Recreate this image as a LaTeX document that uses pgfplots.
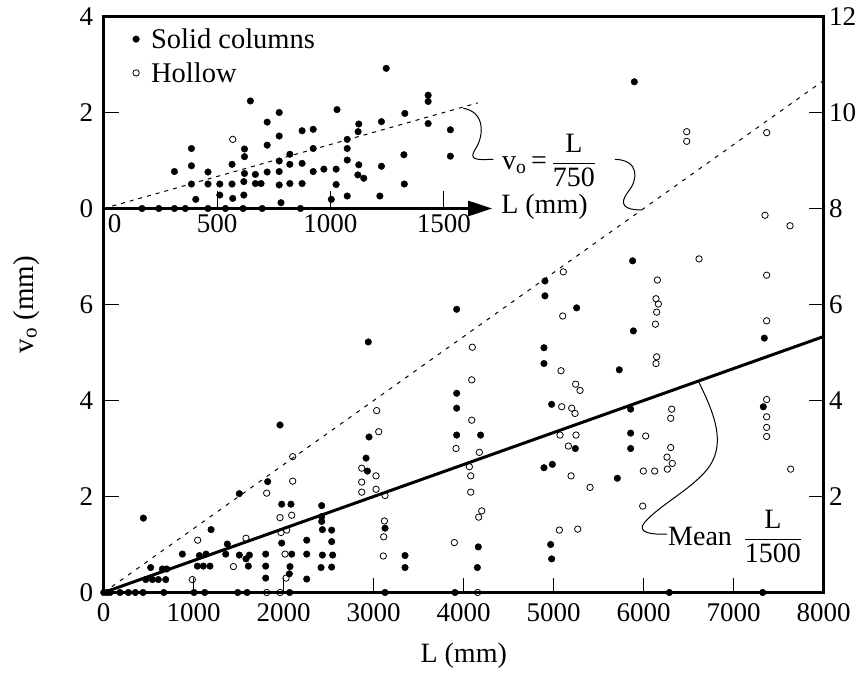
\documentclass[border=0pt]{standalone}
\usepackage{fontspec}
\setmainfont{Liberation Serif}
\usepackage{pgfplots}
\usepackage{pgfplotstable}
\pgfplotsset{compat=1.18}
\usetikzlibrary{arrows.meta}
\newcommand\fs{\fontsize{27}{31}\selectfont}
\newcommand\fl{\fontsize{28}{32}\selectfont}
\newcommand\fy{\fontsize{29}{33}\selectfont}
\newcommand\fg{\fontsize{28.5}{33}\selectfont}

\pgfplotstableread{
L v
0 0
35 0
70 0
181 0
274 0
352 0
437 0
667 0
1004 0
1122 0
1489 0
1593 0
2066 0
3126 0
3903 0
6285 0
7322 0
441 1.55
467 0.27
522 0.52
541 0.27
607 0.27
652 0.49
689 0.27
700 0.49
874 0.80
1041 0.55
1063 0.77
1107 0.55
1137 0.80
1181 0.55
1193 1.31
1356 0.80
1374 1.01
1507 2.06
1507 0.78
1581 0.70
1607 0.55
1619 0.78
1800 0.80
1800 0.55
1800 0.30
1822 2.31
1959 3.49
1978 1.84
1978 1.03
2063 0.39
2070 0.54
2081 1.84
2089 0.80
2256 1.09
2256 0.80
2256 0.28
2415 0.52
2422 1.81
2422 1.58
2422 1.48
2430 1.31
2430 0.78
2533 1.30
2533 1.06
2544 0.78
2533 0.53
2915 2.80
2930 2.53
2948 3.24
2940 5.22
3126 1.34
3348 0.77
3348 0.52
3922 5.90
3922 4.15
3922 3.84
3922 3.28
4188 3.28
4162 0.95
4152 0.52
4903 6.49
4903 6.18
4892 5.10
4892 4.77
4892 2.60
4977 3.92
4985 2.67
4966 1.00
4977 0.70
5255 5.93
5241 3.00
5729 4.64
5707 2.38
5877 6.91
5885 5.45
5855 3.82
5855 3.32
5855 3.00
5896 10.64
7340 5.30
7329 3.87
}\solidmain

\pgfplotstableread{
L v
985 0.27
1044 1.09
1441 0.54
1581 1.13
1811 0
1959 0
1811 2.07
1959 1.56
1970 1.25
2026 0.30
2015 0.80
2033 1.30
2089 1.61
2100 2.83
2100 2.32
2867 2.59
2867 2.30
2867 2.09
3033 3.79
3056 3.35
3026 2.43
3026 2.15
3126 2.02
3119 1.49
3111 1.16
3107 0.76
5107 6.68
5100 5.76
4096 5.11
4089 4.43
4089 3.59
3915 3.00
4174 2.92
4063 2.62
4078 2.43
4078 2.09
4200 1.70
4166 1.57
3896 1.04
4155 0
5081 4.62
5244 4.34
5293 4.21
5089 3.87
5200 3.84
5237 3.73
5070 3.28
5248 3.28
5163 3.05
5193 2.43
5404 2.19
5063 1.30
5267 1.32
6615 6.95
6152 6.51
6137 6.12
6163 6.01
6144 5.84
6130 5.59
6144 4.91
6137 4.77
6022 3.26
5996 2.53
6122 2.53
5989 1.80
6311 3.82
6300 3.63
6300 3.02
6259 2.82
6318 2.69
6263 2.57
7366 6.61
7366 5.66
7366 4.02
7366 3.66
7366 3.44
7366 3.25
7633 2.57
7367 9.58
7348 7.86
7626 7.64
6478 9.60
6478 9.40
}\hollowmain

\pgfplotstableread{
L v
169 0
243 0
312 0
360 0
460 0
537 0
615 0
699 0
868 0
312 0.77
387 1.25
387 0.89
387 0.51
406 0.19
460 0.76
460 0.51
512 0.51
512 0.28
566 0.92
566 0.51
569 0.21
621 1.24
621 1.08
621 0.73
618 0.56
618 0.28
647 2.24
669 0.71
669 0.52
694 0.52
721 1.80
721 1.32
721 0.76
774 2.00
774 1.51
774 0.99
774 0.77
774 0.49
782 0.12
821 1.13
821 0.92
821 0.52
875 1.62
875 0.94
875 0.52
924 1.65
924 1.25
924 0.77
971 0.82
1004 0.19
1025 0.82
1025 0.50
1029 2.06
1074 1.44
1074 1.25
1074 1.01
1074 0.26
1125 1.76
1122 1.60
1125 0.91
1121 0.70
1147 0.63
1225 1.81
1225 0.88
1218 0.26
1246 2.92
1328 1.98
1324 1.12
1326 0.51
1431 2.36
1431 2.23
1431 1.77
1529 1.64
1529 1.09
}\solidinset

\pgfplotstableread{
L v
569 1.44
}\hollowinset

\begin{document}
\begin{tikzpicture}
\path[use as bounding box] (-103.7pt,-80.5pt) rectangle (764.3pt,592.5pt);

% main axis
\begin{axis}[
  at={(0pt,0pt)}, anchor=origin,
  scale only axis, width=720pt, height=576pt,
  xmin=0, xmax=8000, ymin=0, ymax=12,
  clip=false,
  axis line style={line width=2.6pt},
  xtick={0,1000,...,8000},
  xticklabels={0,1000,2000,3000,4000,5000,6000,7000,8000},
  ytick={0,2,...,12},
  yticklabels={0,2,4,6,0,2,4},
  xtick pos=bottom, ytick pos=left,
  tick align=inside, major tick length=15pt,
  every tick/.style={black, line width=0.9pt},
  tick label style={font=\fs},
  xticklabel style={yshift=-8pt},
  yticklabel style={xshift=-7pt},
  xlabel={L (mm)},
  ylabel={v\kern0.5pt\raisebox{-3pt}{\fontsize{21}{21}\selectfont o}\ (mm)},
  label style={font=\fl},
  xlabel style={at={(axis description cs:0.5,-0.11)}, anchor=center},
  ylabel style={at={(axis description cs:-0.107,0.5)}, anchor=center, font=\fy},
  legend style={at={(axis description cs:0.035,0.9865)}, anchor=north west,
    draw=none, fill=none, font=\fg, row sep=8.5pt},
  legend cell align=left,
  legend image code/.code={\path[draw=none,fill=none] (-4pt,0pt) rectangle (13pt,0.1pt); \draw[#1] plot coordinates {(0pt,0pt)};},
]
\addplot[only marks, mark=*, mark size=3.3pt] table[x=L,y=v] {\solidmain};
\addlegendentry{Solid columns}
\addplot[only marks, mark=o, mark size=3.2pt, mark options={line width=0.8pt}] table[x=L,y=v] {\hollowmain};
\addlegendentry{Hollow}
\addplot[forget plot, line width=1pt, dash pattern=on 4pt off 6pt] coordinates {(0,0) (8000,10.667)};
\addplot[forget plot, line width=3pt] coordinates {(0,0) (8000,5.333)};

% annotation: v_o = L/750
\draw[line width=1pt] (axis cs:3996,10.088) .. controls (axis cs:4237,10.01) and (axis cs:4226,9.53) .. (axis cs:4137,9.26)
   .. controls (axis cs:4048,9.01) and (axis cs:4126,9.01) .. (axis cs:4329,9.025);
\draw[line width=1pt] (axis cs:5679,9.025) .. controls (axis cs:5959,9.01) and (axis cs:5937,8.59) .. (axis cs:5826,8.344)
   .. controls (axis cs:5714,8.073) and (axis cs:5792,7.969) .. (axis cs:5978,7.97);
\node[anchor=west, inner sep=0pt, font=\fl] at (axis cs:4426,9.0)
   {v\textsubscript{o}\,=\,$\displaystyle\frac{\mbox{L}}{\mbox{750}}$};

% annotation: Mean L/1500
\draw[line width=1pt] (axis cs:6607,4.405) .. controls (axis cs:6792,3.698) and (axis cs:6926,3.073) .. (axis cs:6700,2.552)
   .. controls (axis cs:6514,2.135) and (axis cs:6181,1.823) .. (axis cs:6014,1.469)
   .. controls (axis cs:5914,1.26) and (axis cs:6070,1.198) .. (axis cs:6259,1.219);
\node[anchor=west, inner sep=0pt, font=\fl] at (axis cs:6270,1.16)
   {Mean\, $\displaystyle\frac{\mbox{L}}{\mbox{1500}}$};
\end{axis}

% right axis
\begin{axis}[
  at={(0pt,0pt)}, anchor=origin,
  scale only axis, width=720pt, height=576pt,
  xmin=0, xmax=8000, ymin=0, ymax=12,
  hide x axis, axis y line*=right,
  y axis line style={line width=2.6pt},
  ytick={2,4,...,12}, yticklabels={2,4,6,8,10,12},
  ytick align=inside, major tick length=15pt,
  every tick/.style={black, line width=0.9pt},
  yticklabel style={font=\fs, xshift=2pt},
]
\addplot[draw=none] coordinates {(0,0)};
\end{axis}

% inset axis
\begin{axis}[
  at={(0pt,384pt)}, anchor=origin,
  scale only axis, width=388.4pt, height=192pt,
  xmin=0, xmax=1713, ymin=0, ymax=4,
  enlargelimits=false, clip=false,
  axis x line*=bottom, axis y line=none,
  x axis line style={line width=2.6pt, -{Triangle[length=24pt,width=15pt]}},
  xtick={0,500,1000,1500},
  xticklabels={\hspace*{22pt}0,500,1000,1500},
  ytick=\empty,
  xtick align=inside, major tick length=17pt,
  every tick/.style={black, line width=0.9pt},
  xticklabel style={font=\fs, yshift=-3pt},
]
\addplot[only marks, mark=*, mark size=3.3pt] table[x=L,y=v] {\solidinset};
\addplot[only marks, mark=o, mark size=3.2pt, mark options={line width=0.8pt}] table[x=L,y=v] {\hollowinset};
\addplot[line width=1pt, dash pattern=on 4pt off 5pt] coordinates {(0,0) (1650,2.2)};
\node[anchor=west, font=\fl, inner sep=0pt, yshift=2pt] at (axis cs:1713,0) {\hspace*{9pt}L (mm)};
\end{axis}
\end{tikzpicture}
\end{document}
